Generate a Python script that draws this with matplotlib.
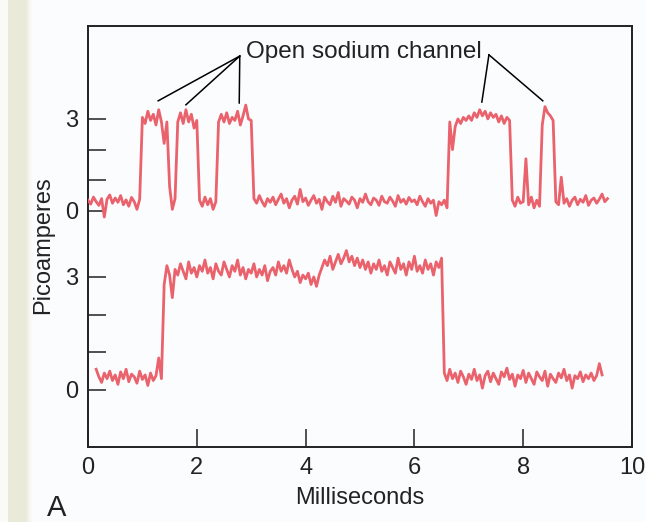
import numpy as np
import matplotlib.pyplot as plt

# trace samples, pA, one value every 0.05 ms
step = 0.05
top_start = 0.0
top_trace = [0.35, 0.22, 0.45, 0.30, 0.18, 0.40, -0.20, 0.38, 0.52, 0.25,
             0.42, 0.28, 0.50, 0.20, 0.36, 0.15, 0.44, 0.30, 0.05, 0.38,
             3.05, 2.85, 3.25, 2.95, 3.15, 2.80, 3.30, 2.90, 2.20, 2.90,
             0.80, 0.05, 0.40, 2.90, 3.20, 2.85, 3.30, 2.90, 3.15, 2.70,
             2.95, 0.35, 0.15, 0.45, 0.20, 0.40, 0.05, 0.30, 2.90, 3.15,
             2.90, 3.20, 2.85, 3.05, 2.95, 3.25, 2.80, 3.10, 3.45, 3.00,
             2.95, 0.40, 0.25, 0.50, 0.30, 0.15, 0.40, 0.28, 0.45, 0.20,
             0.38, 0.55, 0.25, 0.40, 0.10, 0.35, 0.48, 0.22, 0.70, 0.30,
             0.42, 0.18, 0.35, 0.50, 0.25, 0.38, 0.05, 0.45, 0.30, 0.20,
             0.48, 0.28, 0.60, 0.15, 0.40, 0.32, 0.22, 0.45, 0.35, 0.10,
             0.40, 0.28, 0.55, 0.30, 0.20, 0.42, 0.35, 0.18, 0.48, 0.30,
             0.25, 0.45, 0.32, 0.15, 0.50, 0.28, 0.38, 0.22, 0.44, 0.30,
             0.36, 0.20, 0.48, 0.30, 0.15, 0.40, 0.25, 0.35, -0.15, 0.30,
             0.20, 0.35, 0.10, 2.90, 2.00, 2.75, 3.00, 2.85, 3.05, 2.95,
             3.10, 2.95, 3.20, 3.05, 3.30, 3.10, 3.25, 3.00, 3.20, 3.05,
             3.15, 2.90, 3.10, 2.85, 3.05, 2.95, 0.35, 0.15, 0.45, 0.25,
             0.30, 1.70, 0.20, 0.45, 0.10, 0.35, 0.15, 2.80, 3.40, 3.20,
             3.10, 2.95, 0.30, 0.20, 1.10, 0.25, 0.40, 0.15, 0.35, 0.45,
             0.20, 0.38, 0.28, 0.50, 0.18, 0.35, 0.42, 0.25, 0.38, 0.55,
             0.30, 0.40]

bottom_start = 0.15
bottom_trace = [0.55, 0.35, 0.20, 0.45, 0.30, 0.50, 0.25, 0.40, 0.15, 0.48,
                0.30, 0.55, 0.22, 0.42, 0.35, 0.18, 0.50, 0.28, 0.40, 0.12,
                0.45, 0.25, 0.38, 0.85, 0.30, 2.80, 3.30, 3.05, 2.45, 3.20,
                3.05, 3.35, 3.15, 2.95, 3.40, 3.10, 3.25, 3.00, 3.30, 3.15,
                3.45, 3.10, 3.25, 2.95, 3.35, 3.15, 3.05, 3.40, 3.20, 3.00,
                3.30, 3.15, 3.45, 3.05, 3.25, 2.95, 3.20, 3.10, 3.35, 3.00,
                3.20, 3.05, 3.30, 2.90, 3.15, 3.25, 3.05, 3.40, 3.15, 3.30,
                3.10, 3.45, 3.20, 3.00, 3.15, 2.85, 3.05, 2.95, 3.10, 2.80,
                3.00, 2.75, 3.05, 3.25, 3.45, 3.30, 3.55, 3.20, 3.40, 3.60,
                3.35, 3.50, 3.70, 3.40, 3.55, 3.30, 3.50, 3.25, 3.45, 3.20,
                3.40, 3.10, 3.35, 3.20, 3.45, 3.15, 3.30, 3.05, 3.40, 3.25,
                3.10, 3.50, 3.20, 3.35, 3.05, 3.40, 3.20, 3.55, 3.15, 3.30,
                3.10, 3.45, 3.20, 3.35, 3.05, 3.40, 3.25, 3.50, 0.45, 0.25,
                0.55, 0.30, 0.45, 0.20, 0.50, 0.35, 0.15, 0.42, 0.28, 0.55,
                0.25, 0.40, 0.05, 0.38, 0.50, 0.22, 0.45, 0.30, 0.15, 0.48,
                0.35, 0.58, 0.28, 0.42, 0.10, 0.40, 0.30, 0.52, 0.20, 0.45,
                0.30, 0.15, 0.48, 0.35, 0.25, 0.50, 0.10, 0.42, 0.30, 0.20,
                0.45, 0.32, 0.55, 0.25, 0.40, 0.05, 0.38, 0.30, 0.48, 0.22,
                0.40, 0.30, 0.45, 0.25, 0.38, 0.70, 0.40]

x_ticks = [0, 2, 4, 6, 8, 10]
y_ticks = [0, 1, 2, 3]
y_ticklabels = ['0', '', '', '3']

# annotation: label anchor and the open events it points to (top trace coords)
note_text = 'Open sodium channel'
note_left = (2.79, 5.05)
note_left_targets = [(1.29, 3.59), (1.80, 3.46), (2.78, 3.52)]
note_right = (7.37, 5.09)
note_right_targets = [(7.24, 3.55), (8.36, 3.59)]

trace_color = '#ea626c'
bg = '#fbfcfe'
ink = '#222222'

plt.rcParams['font.family'] = ['Liberation Sans', 'DejaVu Sans']

fig = plt.figure(figsize=(6.46, 5.22), dpi=100, facecolor=bg)

# beige strip on the left edge
strip = fig.add_axes([0, 0, 44 / 646, 1], zorder=-5)
cols = np.array([[250, 250, 246]] * 8 + [[233, 234, 217]] * 18 +
                [[235, 236, 221], [238, 239, 227], [241, 242, 233], [244, 245, 238],
                 [247, 248, 243], [249, 250, 248], [250, 251, 251]] +
                [[251, 252, 254]] * 11) / 255
strip.imshow(cols[np.newaxis, :, :], aspect='auto', extent=(0, 1, 0, 1))
strip.set_axis_off()

rect = [88 / 646, 1 - 447 / 522, (632 - 88) / 646, (447 - 26) / 522]
ax = fig.add_axes(rect)
ax.set_facecolor('none')
ax.set_xlim(0, 10)
ax.set_xticks(x_ticks)
ax.set_yticks([])
for s in ax.spines.values():
    s.set_linewidth(1.4)
    s.set_color(ink)
ax.tick_params(axis='x', direction='in', length=13, width=1.1, color=ink,
               labelsize=17, labelcolor=ink, pad=7)
ax.set_xlabel('Milliseconds', fontsize=17, color=ink, labelpad=6)

# two traces, each with its own pA scale
ax_top = fig.add_axes(rect, sharex=ax)
ax_bot = fig.add_axes(rect, sharex=ax)
for a, lim in [(ax_top, (-7.70, 6.03)), (ax_bot, (-1.513, 9.66))]:
    a.patch.set_visible(False)
    for s in a.spines.values():
        s.set_visible(False)
    a.set_ylim(*lim)
    a.set_yticks(y_ticks)
    a.set_yticklabels(y_ticklabels)
    a.tick_params(axis='y', direction='in', length=13, width=1.1, color=ink,
                  labelsize=17, labelcolor=ink, pad=7)
    a.tick_params(axis='x', bottom=False, labelbottom=False)

t_top = top_start + step * np.arange(len(top_trace))
t_bot = bottom_start + step * np.arange(len(bottom_trace))
ax_top.plot(t_top, top_trace, color=trace_color, lw=2.0)
ax_bot.plot(t_bot, bottom_trace, color=trace_color, lw=2.0)

for anchor, targets in [(note_left, note_left_targets), (note_right, note_right_targets)]:
    for tx, ty in targets:
        ax_top.plot([anchor[0], tx], [anchor[1], ty], color='black', lw=1.1)
ax_top.text(2.90, 5.18, note_text, fontsize=17.5, color=ink, ha='left', va='center')

fig.text(43 / 646, 1 - 245 / 522, 'Picoamperes', fontsize=17, color=ink,
         rotation=90, ha='center', va='center')
fig.text(47 / 646, 1 - 522 / 522, 'A', fontsize=21, color=ink, ha='left', va='bottom')

fig.savefig('out.png', dpi=100, facecolor=bg)
